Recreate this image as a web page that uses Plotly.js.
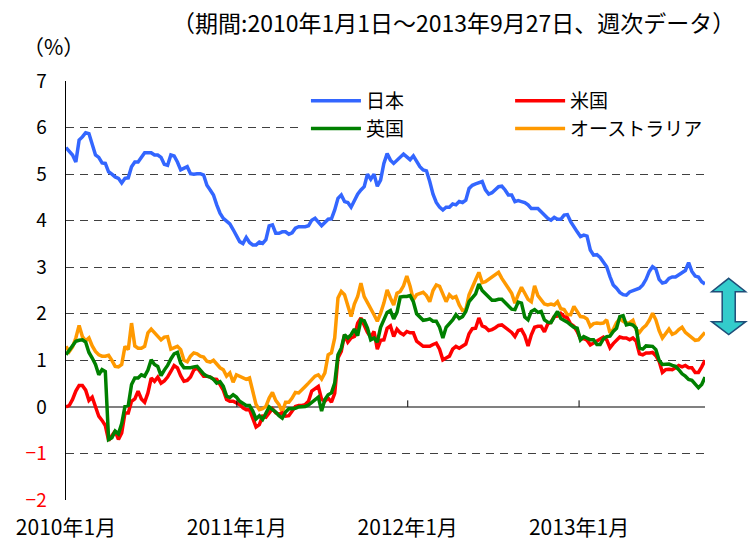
<!DOCTYPE html>
<html>
<head>
<meta charset="utf-8">
<script src="https://cdn.plot.ly/plotly-3.0.1.min.js"></script>
<style>
html,body{margin:0;padding:0;background:#fff;}
#chart{width:749px;height:543px;}
</style>
</head>
<body>
<div id="chart"></div>
<script>
// Weekly data, first observation 2010-01-01 (Friday), last 2013-09-27
const startDate = '2010-01-01';

const seriesNames = ['日本', '米国', '英国', 'オーストラリア'];

const japan = [
  5.57,5.50,5.41,5.26,5.73,5.80,5.89,5.87,5.66,5.41,5.36,5.24,5.23,5.05,5.00,4.94,4.91,4.81,4.91,4.92,
  5.16,5.26,5.26,5.36,5.46,5.46,5.46,5.41,5.41,5.36,5.21,5.19,5.41,5.39,5.26,5.09,5.12,5.16,5.01,5.00,
  5.01,5.01,4.98,4.76,4.66,4.55,4.34,4.16,4.05,
  3.98,3.93,3.81,3.67,3.55,3.51,3.64,3.53,3.48,3.48,3.54,3.51,3.59,3.89,3.91,3.73,3.73,3.76,3.76,3.71,
  3.74,3.84,3.87,3.87,3.87,3.89,4.01,4.05,3.98,3.89,3.96,4.03,4.04,4.23,4.48,4.55,4.41,4.39,4.29,4.44,
  4.57,4.66,4.73,5.00,4.89,5.00,4.74,4.87,5.23,
  5.44,5.30,5.23,5.29,5.37,5.43,5.37,5.31,5.39,5.26,5.16,5.09,5.07,4.84,4.57,4.39,4.29,4.23,4.29,4.29,
  4.36,4.34,4.41,4.39,4.44,4.69,4.76,4.79,4.81,4.84,4.66,4.57,4.60,4.66,4.73,4.74,4.66,4.55,4.55,4.41,
  4.43,4.41,4.39,4.34,4.26,4.26,4.26,4.19,4.12,
  4.05,4.01,4.07,4.03,4.03,4.12,4.13,3.98,3.86,3.76,3.66,3.69,3.67,3.37,3.26,3.27,3.21,3.12,3.01,2.80,
  2.62,2.55,2.46,2.41,2.40,2.47,2.50,2.51,2.55,2.62,2.74,2.91,3.01,2.96,2.74,2.66,2.68,2.76,2.79,2.79,
  2.83,2.87,2.93,3.10,2.91,2.81,2.79,2.69,2.64
];

const us = [
  0.00,0.03,0.16,0.34,0.46,0.46,0.36,0.14,0.21,0.00,-0.20,-0.29,-0.40,-0.72,-0.63,-0.52,-0.70,-0.56,-0.13,-0.13,
  0.12,0.17,0.34,0.17,0.10,0.30,0.62,0.55,0.64,0.51,0.56,0.64,0.76,0.89,0.84,0.67,0.55,0.57,0.64,0.79,
  0.84,0.74,0.66,0.66,0.64,0.60,0.59,0.48,0.36,
  0.16,0.12,0.12,0.09,0.05,-0.02,-0.06,-0.06,-0.24,-0.43,-0.38,-0.20,-0.22,-0.13,-0.04,-0.13,-0.16,-0.13,-0.20,-0.19,
  -0.09,0.01,0.03,0.03,0.05,0.12,0.34,0.39,0.44,0.16,0.12,0.19,0.10,0.29,1.05,1.19,1.55,1.39,1.48,1.51,
  1.80,1.91,1.76,1.60,1.50,1.62,1.24,1.43,1.44,
  1.69,1.74,1.51,1.67,1.59,1.55,1.62,1.59,1.59,1.41,1.35,1.30,1.30,1.30,1.34,1.37,1.24,1.01,1.05,1.09,
  1.24,1.30,1.26,1.30,1.35,1.57,1.68,1.69,1.91,1.74,1.71,1.64,1.66,1.70,1.75,1.76,1.71,1.66,1.60,1.51,
  1.64,1.66,1.53,1.31,1.55,1.71,1.73,1.73,1.61,
  1.78,1.82,1.94,1.95,2.01,1.94,1.91,1.78,1.73,1.62,1.46,1.47,1.43,1.33,1.37,1.41,1.44,1.50,1.44,1.27,
  1.36,1.43,1.50,1.48,1.48,1.44,1.48,1.41,1.14,1.12,1.16,1.16,1.17,1.10,0.98,0.74,0.80,0.81,0.80,0.84,
  0.89,0.86,0.89,0.84,0.84,0.74,0.74,0.86,1.00
];

const uk = [
  1.12,1.21,1.29,1.41,1.43,1.44,1.39,1.17,1.05,0.91,0.69,0.80,0.76,-0.70,-0.66,-0.52,-0.58,-0.36,0.01,0.03,
  0.48,0.62,0.62,0.69,0.66,0.79,1.01,0.91,0.87,0.67,0.79,0.89,1.03,1.14,1.17,0.94,0.84,0.84,0.84,0.86,
  0.87,0.79,0.71,0.66,0.64,0.59,0.51,0.54,0.44,
  0.23,0.20,0.26,0.21,0.12,0.07,0.03,0.03,-0.09,-0.26,-0.19,-0.27,-0.13,0.00,-0.06,-0.11,-0.19,-0.24,-0.11,-0.04,
  -0.04,-0.03,0.00,0.00,0.01,0.04,0.10,0.17,0.21,-0.09,0.16,0.26,0.30,0.51,1.12,1.26,1.55,1.48,1.55,1.67,
  1.53,1.87,1.85,1.69,1.44,1.48,1.39,1.71,1.85,
  2.03,2.07,1.89,2.03,2.36,2.37,2.37,2.39,2.26,2.00,1.94,1.86,1.87,1.89,1.84,1.84,1.71,1.48,1.71,1.79,
  1.87,1.98,1.90,1.94,2.05,2.26,2.34,2.43,2.64,2.50,2.43,2.37,2.29,2.29,2.31,2.31,2.24,2.17,2.10,2.09,
  2.25,2.23,1.93,1.87,2.05,2.09,2.03,2.05,1.87,
  1.82,1.81,1.94,2.05,1.90,1.87,1.82,1.76,1.71,1.69,1.44,1.51,1.48,1.44,1.44,1.34,1.34,1.46,1.51,1.52,
  1.62,1.69,1.94,1.96,1.76,1.78,1.76,1.69,1.26,1.24,1.31,1.30,1.30,1.23,1.00,0.91,0.91,0.92,0.89,0.87,
  0.80,0.71,0.66,0.59,0.57,0.48,0.41,0.48,0.64
];

const australia = [
  1.30,1.19,1.29,1.48,1.75,1.51,1.42,1.48,1.31,1.19,1.12,1.09,1.09,1.11,1.00,0.87,0.86,0.91,1.30,1.23,
  1.80,1.31,1.26,1.26,1.30,1.59,1.67,1.59,1.50,1.44,1.50,1.51,1.24,1.28,1.30,1.23,1.00,0.97,1.09,1.16,
  1.14,1.09,1.07,0.98,0.96,1.00,0.91,0.84,0.80,
  0.66,0.73,0.53,0.69,0.66,0.62,0.59,0.62,0.34,0.05,-0.06,-0.04,0.01,0.19,0.31,0.14,0.05,-0.11,0.10,0.10,
  0.19,0.31,0.30,0.36,0.44,0.51,0.59,0.66,0.69,0.60,0.73,1.12,1.16,1.48,2.34,2.48,2.41,2.16,1.94,2.21,
  2.37,2.66,2.37,2.24,2.12,1.98,1.84,2.01,2.23,
  2.51,2.34,2.19,2.44,2.48,2.60,2.81,2.59,2.30,2.41,2.44,2.46,2.39,2.26,2.50,2.62,2.59,2.41,2.26,2.41,
  2.34,2.37,2.19,2.07,2.09,2.41,2.59,2.73,2.89,2.67,2.69,2.74,2.79,2.83,2.89,2.76,2.67,2.55,2.44,2.23,
  2.41,2.57,2.44,2.31,2.26,2.60,2.39,2.31,2.21,
  2.19,2.21,2.19,2.26,2.11,2.09,1.98,1.98,2.16,2.05,1.94,1.93,1.89,1.73,1.79,1.80,1.79,1.80,1.87,1.59,
  1.66,1.81,1.89,1.84,1.80,1.81,1.86,1.66,1.60,1.69,1.75,1.86,2.01,1.87,1.64,1.48,1.59,1.67,1.56,1.59,
  1.66,1.71,1.60,1.55,1.48,1.43,1.44,1.51,1.60
];

const xTickVals = ['2010-01-01', '2011-01-01', '2012-01-01', '2013-01-01'];
const xTickText = ['2010年1月', '2011年1月', '2012年1月', '2013年1月'];
const yTickVals = [-2, -1, 0, 1, 2, 3, 4, 5, 6, 7];

const titleText = '（期間:2010年1月1日～2013年9月27日、週次データ）';
const unitText = '（%）';

// ---------- build ----------
function weeklyDates(start, n) {
  const d0 = new Date(start + 'T00:00:00Z').getTime();
  const out = [];
  for (let i = 0; i < n; i++) {
    out.push(new Date(d0 + i * 7 * 86400000).toISOString().slice(0, 10));
  }
  return out;
}
const dates = weeklyDates(startDate, japan.length);

const yTickText = yTickVals.map(v => v < 0
  ? '<span style="color:#ff0000">\u2212' + Math.abs(v) + '</span>'
  : String(v));

const FONT = '"Noto Sans CJK JP", "Noto Sans", sans-serif';

function line(name, y, color, legendId, rank) {
  return {
    type: 'scatter', mode: 'lines', name: name, x: dates, y: y,
    line: {color: color, width: 3.5},
    legend: legendId, legendrank: rank, hoverinfo: 'skip'
  };
}

const traces = [
  line(seriesNames[3], australia, '#FF9900', 'legend2', 2),
  line(seriesNames[1], us, '#FF0000', 'legend2', 1),
  line(seriesNames[2], uk, '#008000', 'legend', 2),
  line(seriesNames[0], japan, '#3366FF', 'legend', 1)
];

// tick marks on the zero line at each year
const tickShapes = xTickVals.slice(1).map(d => ({
  type: 'line', xref: 'x', yref: 'y', x0: d, x1: d, y0: 0, y1: 0.14,
  line: {color: '#000000', width: 1}
}));

// white legend box hiding the grid line behind the legend
const legendBox = {
  type: 'rect', xref: 'paper', yref: 'paper', layer: 'above',
  x0: 0.366, x1: 1.0, y0: 0.868, y1: 0.985,
  fillcolor: '#ffffff', line: {width: 0}
};

// double-headed arrow to the right of the plot
const ax = 1.0371, hw = 0.0266, sw = 0.0102;
const yTop = 0.5291, yHeadT = 0.4971, yHeadB = 0.4255, yBot = 0.3950;
const arrowPath = 'M' + ax + ',' + yTop +
  ' L' + (ax + hw) + ',' + yHeadT + ' L' + (ax + sw) + ',' + yHeadT +
  ' L' + (ax + sw) + ',' + yHeadB + ' L' + (ax + hw) + ',' + yHeadB +
  ' L' + ax + ',' + yBot +
  ' L' + (ax - hw) + ',' + yHeadB + ' L' + (ax - sw) + ',' + yHeadB +
  ' L' + (ax - sw) + ',' + yHeadT + ' L' + (ax - hw) + ',' + yHeadT + ' Z';

const layout = {
  width: 749, height: 543,
  margin: {l: 66, r: 44, t: 81, b: 43},
  paper_bgcolor: '#ffffff', plot_bgcolor: '#ffffff',
  font: {family: FONT, color: '#000000', size: 18},
  showlegend: true,
  xaxis: {
    type: 'date', range: [dates[0], dates[dates.length - 1]],
    tickvals: xTickVals, ticktext: xTickText,
    showgrid: false, zeroline: false, showline: false, ticks: '',
    tickfont: {size: 21, family: FONT}, ticklabelstandoff: 13, fixedrange: true
  },
  yaxis: {
    range: [-2, 7], tickvals: yTickVals, ticktext: yTickText,
    showgrid: true, gridcolor: '#404040', gridwidth: 1, griddash: '8px,6px',
    zeroline: true, zerolinecolor: '#808080', zerolinewidth: 2,
    showline: true, linecolor: '#000000', linewidth: 1.5, ticks: '',
    tickfont: {size: 19, family: FONT}, ticklabelstandoff: 14, fixedrange: true
  },
  legend: {
    x: 0.3755, y: 0.998, xanchor: 'left', yanchor: 'top',
    bgcolor: 'rgba(0,0,0,0)', borderwidth: 0, font: {size: 19, family: FONT},
    itemwidth: 50, tracegroupgap: 0
  },
  legend2: {
    x: 0.695, y: 0.998, xanchor: 'left', yanchor: 'top',
    bgcolor: 'rgba(0,0,0,0)', borderwidth: 0, font: {size: 19, family: FONT},
    itemwidth: 50, tracegroupgap: 0
  },
  annotations: [
    {text: titleText, xref: 'paper', yref: 'paper', x: 1.05, y: 1.1408,
     xanchor: 'right', yanchor: 'middle', showarrow: false,
     font: {size: 23, family: FONT, color: '#000000'}},
    {text: unitText, xref: 'paper', yref: 'paper', x: -0.071, y: 1.0835,
     xanchor: 'left', yanchor: 'middle', showarrow: false,
     font: {size: 21, family: FONT, color: '#000000'}}
  ],
  shapes: [legendBox].concat(tickShapes, [{
    type: 'path', xref: 'paper', yref: 'paper', path: arrowPath,
    fillcolor: '#33CCCC', line: {color: '#1F4E79', width: 1.5}
  }])
};

Plotly.newPlot('chart', traces, layout, {staticPlot: true, displayModeBar: false});
</script>
</body>
</html>
